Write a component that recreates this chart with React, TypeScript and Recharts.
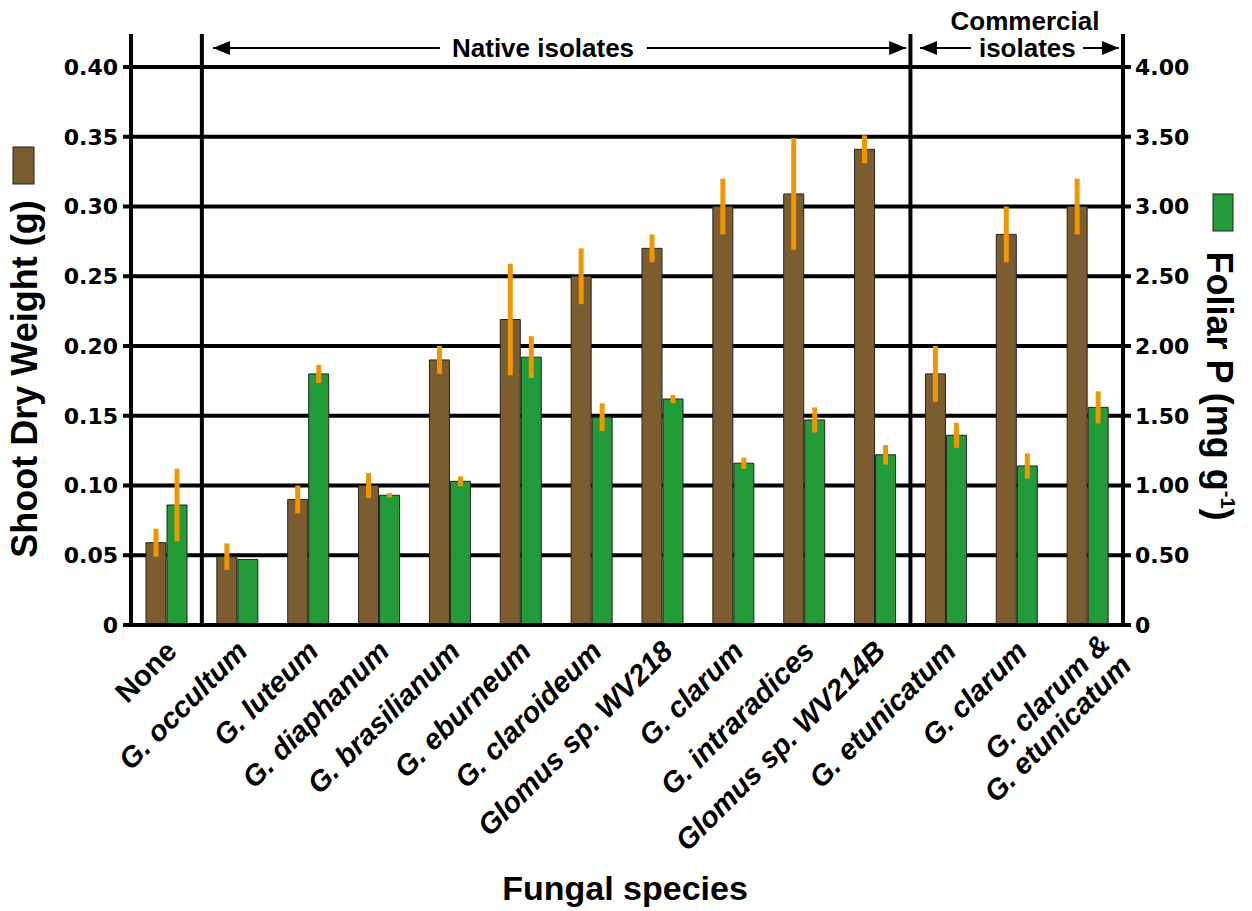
import {
  ComposedChart,
  Bar,
  XAxis,
  YAxis,
  CartesianGrid,
  ErrorBar,
  ReferenceLine,
  ReferenceDot,
} from "recharts";

const species = [
  "None",
  "G. occultum",
  "G. luteum",
  "G. diaphanum",
  "G. brasilianum",
  "G. eburneum",
  "G. claroideum",
  "Glomus sp. WV218",
  "G. clarum",
  "G. intraradices",
  "Glomus sp. WV214B",
  "G. etunicatum",
  "G. clarum",
  "G. clarum & G. etunicatum",
];

// shoot dry weight (g), left axis
const shootWeight = [0.059, 0.049, 0.09, 0.1, 0.19, 0.219, 0.25, 0.27, 0.3, 0.309, 0.341, 0.18, 0.28, 0.3];
const shootWeightErr = [0.01, 0.0095, 0.01, 0.009, 0.01, 0.04, 0.02, 0.01, 0.02, 0.04, 0.01, 0.02, 0.02, 0.02];

// foliar P (mg g-1), right axis
const foliarP = [0.86, 0.47, 1.8, 0.93, 1.03, 1.92, 1.49, 1.62, 1.16, 1.47, 1.22, 1.36, 1.14, 1.56];
const foliarPErr = [0.26, 0, 0.065, 0.015, 0.035, 0.15, 0.1, 0.03, 0.04, 0.09, 0.07, 0.09, 0.09, 0.115];

const leftTicks = [0, 0.05, 0.1, 0.15, 0.2, 0.25, 0.3, 0.35, 0.4];
const rightTicks = [0, 0.5, 1, 1.5, 2, 2.5, 3, 3.5, 4];

// category boundaries: axes and the native / commercial split
const boundaries = [0, 1, 11, 14];
const boundaryTicks = species.map((_, i) => i).concat(species.length);

const BROWN = "#7c5d2f";
const GREEN = "#229c38";
const ORANGE = "#f09600";
const FONT = "'Liberation Sans', Arial, sans-serif";
const TICK_FONT = "'DejaVu Sans', sans-serif";

const data = species.map((name, i) => ({
  name,
  pos: i + 0.5,
  shoot: shootWeight[i],
  shootErr: shootWeightErr[i],
  foliar: foliarP[i],
  foliarErr: foliarPErr[i],
}));

const fmt = (v: number) => (v === 0 ? "0" : v.toFixed(2));

function SpeciesTick({ x, y, payload }: any) {
  const name: string = payload.value;
  const lines =
    name === "G. clarum & G. etunicatum" ? ["G. clarum &", "G. etunicatum"] : [name];
  const multi = lines.length > 1;
  return (
    <g transform={`translate(${x + (multi ? 34 : 12)},${y + (multi ? 23 : 20)})`}>
      <text
        transform="rotate(-45)"
        textAnchor="end"
        fontFamily={FONT}
        fontWeight="bold"
        fontStyle={name === "None" ? "normal" : "italic"}
        fontSize={29}
        fill="#000"
      >
        {lines.map((l, i) => (
          <tspan key={i} x={0} dy={i === 0 ? (multi ? -14 : 0) : 30}>
            {l}
          </tspan>
        ))}
      </text>
    </g>
  );
}

const LeftTitle = () => (
  <g>
    <rect x={13} y={147} width={21} height={37} fill={BROWN} stroke="#222" />
    <text
      transform="translate(37,379) rotate(-90)"
      textAnchor="middle"
      fontFamily={FONT}
      fontWeight="bold"
      fontSize={36}
      fill="#000"
    >
      Shoot Dry Weight (g)
    </text>
  </g>
);

const RightTitle = () => (
  <g>
    <rect x={1213} y={194} width={20} height={37} fill={GREEN} stroke="#222" />
    <text
      transform="translate(1207,386) rotate(90)"
      textAnchor="middle"
      fontFamily={FONT}
      fontWeight="bold"
      fontSize={36}
      fill="#000"
    >
      Foliar P (mg g
      <tspan fontSize={20} dy={-14}>
        -1
      </tspan>
      <tspan dy={14}>)</tspan>
    </text>
  </g>
);

const arrowHead = (dir: number) => (p: any) =>
  (
    <polygon
      points={`${p.cx},${p.cy} ${p.cx - dir * 17},${p.cy - 7} ${p.cx - dir * 17},${p.cy + 7}`}
      fill="#000"
    />
  );

const label = (text: string, dy: number) => (p: any) =>
  (
    <text
      x={p.cx}
      y={p.cy + dy}
      textAnchor="middle"
      fontFamily={FONT}
      fontWeight="bold"
      fontSize={26}
      fill="#000"
    >
      {text}
    </text>
  );

// annotation arrows, in category units (x) and left-axis units (y)
const arrowY = 0.4136;
const lineTop = 0.4237;
const nativeArrow = [1.157, 4.36, 7.28, 10.94];
const commercialArrow = [11.135, 11.855, 13.435, 13.943];

export default function App() {
  return (
    <div style={{ position: "absolute", left: 0, top: 0, background: "#fff" }}>
      <ComposedChart
        width={1252}
        height={911}
        data={data}
        margin={{ top: 67, right: 0, bottom: 0, left: 0 }}
        barGap={1}
      >
        <CartesianGrid
          yAxisId="left"
          vertical={false}
          stroke="#000"
          strokeWidth={4}
        />
        <XAxis
          xAxisId="num"
          dataKey="pos"
          type="number"
          domain={[0, species.length]}
          ticks={boundaryTicks}
          height={0}
          axisLine={false}
          tick={false}
          tickSize={8}
          tickLine={{ stroke: "#000", strokeWidth: 4 }}
        />
        <XAxis
          dataKey="name"
          height={286}
          interval={0}
          axisLine={{ stroke: "#000", strokeWidth: 4 }}
          tickLine={false}
          tick={<SpeciesTick />}
          label={{
            content: () => (
              <text
                x={625}
                y={900}
                textAnchor="middle"
                fontFamily={FONT}
                fontWeight="bold"
                fontSize={34}
                fill="#000"
              >
                Fungal species
              </text>
            ),
          }}
        />
        <YAxis
          yAxisId="left"
          width={131}
          domain={[0, 0.4]}
          ticks={leftTicks}
          tickFormatter={fmt}
          axisLine={false}
          tickSize={8}
          tickMargin={5}
          tickLine={{ stroke: "#000", strokeWidth: 4 }}
          tick={{ fill: "#000", fontSize: 22, fontWeight: "bold", fontFamily: TICK_FONT }}
          label={{ content: LeftTitle }}
        />
        <YAxis
          yAxisId="right"
          orientation="right"
          width={129}
          domain={[0, 4]}
          ticks={rightTicks}
          tickFormatter={fmt}
          axisLine={false}
          tickSize={8}
          tickMargin={4}
          tickLine={{ stroke: "#000", strokeWidth: 4 }}
          tick={{ fill: "#000", fontSize: 22, fontWeight: "bold", fontFamily: TICK_FONT }}
          label={{ content: RightTitle }}
        />
        <Bar
          yAxisId="left"
          dataKey="shoot"
          fill={BROWN}
          stroke="#222"
          strokeWidth={1}
          barSize={20}
          isAnimationActive={false}
        >
          <ErrorBar dataKey="shootErr" width={0} strokeWidth={5} stroke={ORANGE} />
        </Bar>
        <Bar
          yAxisId="right"
          dataKey="foliar"
          fill={GREEN}
          stroke="#222"
          strokeWidth={1}
          barSize={20}
          isAnimationActive={false}
        >
          <ErrorBar dataKey="foliarErr" width={0} strokeWidth={5} stroke={ORANGE} />
        </Bar>
        {boundaries.map((b) => (
          <ReferenceLine
            key={b}
            xAxisId="num"
            yAxisId="left"
            segment={[
              { x: b, y: 0 },
              { x: b, y: lineTop },
            ]}
            stroke="#000"
            strokeWidth={4}
            ifOverflow="visible"
          />
        ))}
        {[nativeArrow, commercialArrow].map((a, k) => [
          <ReferenceLine
            key={`l${k}`}
            xAxisId="num"
            yAxisId="left"
            segment={[
              { x: a[0], y: arrowY },
              { x: a[1], y: arrowY },
            ]}
            stroke="#000"
            strokeWidth={2}
            ifOverflow="visible"
          />,
          <ReferenceLine
            key={`r${k}`}
            xAxisId="num"
            yAxisId="left"
            segment={[
              { x: a[2], y: arrowY },
              { x: a[3], y: arrowY },
            ]}
            stroke="#000"
            strokeWidth={2}
            ifOverflow="visible"
          />,
          <ReferenceDot
            key={`hl${k}`}
            xAxisId="num"
            yAxisId="left"
            x={a[0]}
            y={arrowY}
            r={0}
            ifOverflow="visible"
            shape={arrowHead(-1)}
          />,
          <ReferenceDot
            key={`hr${k}`}
            xAxisId="num"
            yAxisId="left"
            x={a[3]}
            y={arrowY}
            r={0}
            ifOverflow="visible"
            shape={arrowHead(1)}
          />,
        ])}
        <ReferenceDot
          xAxisId="num"
          yAxisId="left"
          x={5.815}
          y={arrowY}
          r={0}
          ifOverflow="visible"
          shape={label("Native isolates", 9)}
        />
        <ReferenceDot
          xAxisId="num"
          yAxisId="left"
          x={12.617}
          y={arrowY}
          r={0}
          ifOverflow="visible"
          shape={label("Commercial", -18)}
        />
        <ReferenceDot
          xAxisId="num"
          yAxisId="left"
          x={12.65}
          y={arrowY}
          r={0}
          ifOverflow="visible"
          shape={label("isolates", 9)}
        />
      </ComposedChart>
    </div>
  );
}
